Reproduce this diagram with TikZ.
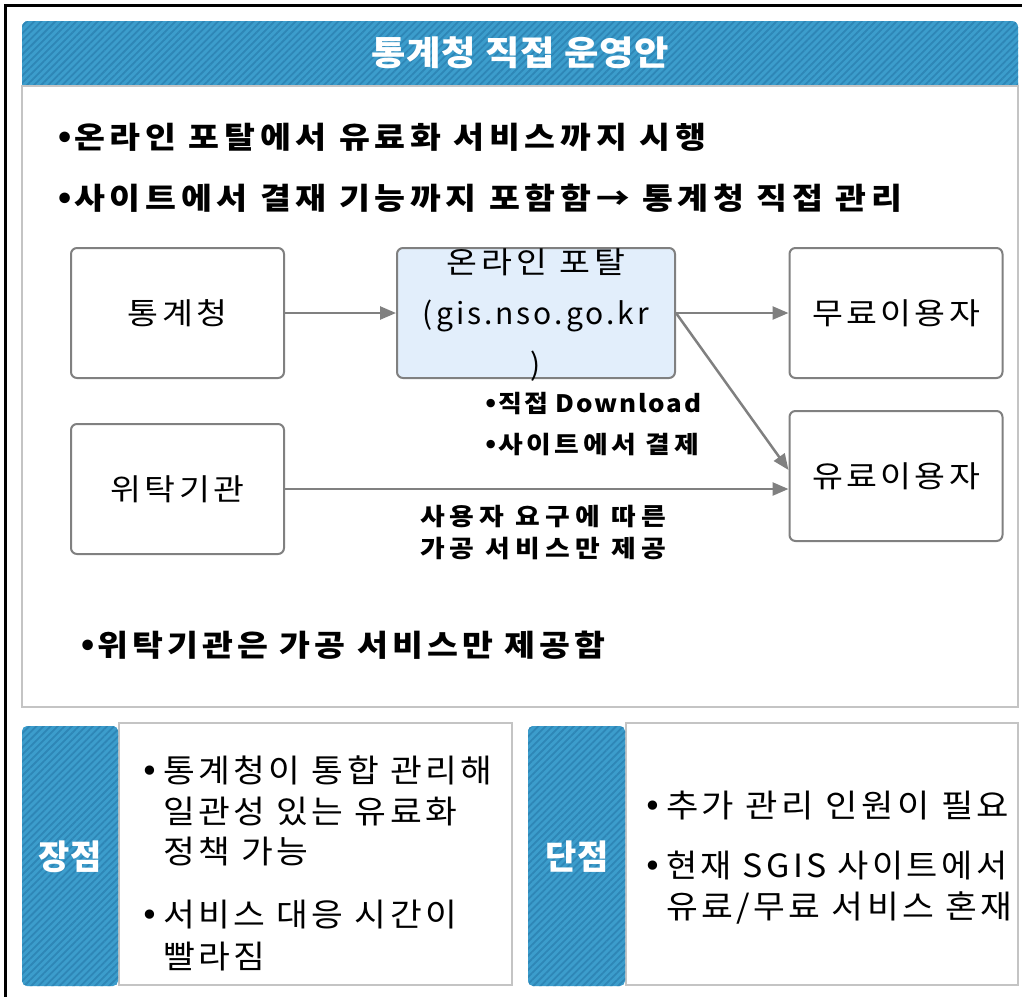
\documentclass[tikz,border=0pt]{standalone}
\usepackage{fontspec}
\setmainfont{Noto Sans CJK KR}
\newfontfamily\dv{DejaVu Sans}
\usetikzlibrary{arrows.meta,patterns.meta}
\definecolor{hblue}{HTML}{3C9DCC}
\definecolor{hstripe}{HTML}{2E86B6}
\definecolor{panelgray}{HTML}{C4C4C4}
\definecolor{boxgray}{HTML}{808080}
\definecolor{portalfill}{HTML}{E2EEFB}
\newcommand{\bul}{{\dv\char"2022}}
\newcommand{\ls}[1]{\addfontfeatures{LetterSpace=#1}}
\newcommand{\sx}[2]{\scalebox{#1}[1]{#2}}
\tikzset{
  hatch/.style={fill=hblue, postaction={pattern={Lines[angle=45,distance=5pt,line width=1.8pt]}, pattern color=hstripe}},
  panel/.style={draw=panelgray, line width=2.5pt},
  flowbox/.style={draw=boxgray, line width=2pt, rounded corners=6pt, fill=white, minimum width=213pt, minimum height=130pt, inner sep=0pt, font=\fontsize{30}{36}\selectfont\ls{10}},
  arr/.style={draw=boxgray, line width=2.5pt, -{Triangle[length=16pt,width=13pt]}},
  boldtxt/.style={font=\bfseries\fontsize{30}{36}\selectfont\ls{14}, anchor=west, inner sep=0pt},
  bodytxt/.style={font=\fontsize{32}{38}\selectfont\ls{10}, anchor=west, inner sep=0pt},
  tabtxt/.style={font=\bfseries\fontsize{34}{36}\selectfont, text=white, inner sep=0pt}
}
\begin{document}
\begin{tikzpicture}[x=1pt,y=-1pt]
\useasboundingbox (0,0) rectangle (1022,996);
% outer frame
\draw[line width=3pt, black] (5,1000) -- (5,5) -- (1030,5);
% header
\path[hatch] (22,86) {[rounded corners=6pt] -- (22,21) -- (1018,21)} -- (1018,86) -- cycle;
\node[font=\bfseries\fontsize{34}{38}\selectfont\ls{2}, text=white, inner sep=0pt] (title) at (520,53) {\sx{1.1}{통계청 직접 운영안}};
% main panel
\draw[panel] (22,86) rectangle (1018,707);
\node[boldtxt] (l1) at (55,137) {\bul\sx{1.12}{온라인 포탈에서 유료화 서비스까지 시행}};
\node[boldtxt] (l2) at (55,198) {\bul\sx{1.12}{사이트에서 결재 기능까지 포함함\textrightarrow{} 통계청 직접 관리}};
% flow boxes
\node[flowbox] (tong) at (177.5,313) {\sx{1.12}{통계청}};
\node[flowbox, fill=portalfill, minimum width=278pt] (portal) at (536,313) {};
\node[font=\fontsize{30}{36}\selectfont\ls{12}, inner sep=0pt] (p1) at (536,262) {\sx{1.12}{온라인 포탈}};
\node[font=\fontsize{30}{36}\selectfont\ls{10}, inner sep=0pt] (p2) at (536,316) {(gis.nso.go.kr};
\node[font=\fontsize{30}{36}\selectfont, inner sep=0pt] (p3) at (536,366) {)};
\node[flowbox] (free) at (896,313) {\sx{1.12}{무료이용자}};
\node[flowbox] (wit) at (177.5,489) {\sx{1.12}{위탁기관}};
\node[flowbox] (paid) at (896,476) {\sx{1.12}{유료이용자}};
% connectors
\draw[arr] (tong.east) -- (portal.west);
\draw[arr] (portal.east) -- (free.west);
\draw[arr] (portal.east) -- ([yshift=6pt]paid.west);
\draw[arr] (wit.east) -- (wit.east -| paid.west);
% labels
\node[font=\bfseries\fontsize{24}{28}\selectfont\ls{7}, inner sep=0pt, anchor=west] (d1) at (483,404) {\bul\sx{1.08}{직접 Download}};
\node[font=\bfseries\fontsize{24}{28}\selectfont\ls{13}, inner sep=0pt, anchor=west] (d2) at (483,445) {\bul\sx{1.12}{사이트에서 결제}};
\node[font=\bfseries\fontsize{24}{28}\selectfont\ls{19}, inner sep=0pt, align=center] (d3) at (543,533) {\sx{1.12}{사용자 요구에 따른}\\[4pt]\sx{1.12}{가공 서비스만 제공}};
\node[font=\bfseries\fontsize{30}{36}\selectfont\ls{12}, anchor=west, inner sep=0pt] (l3) at (78,645) {\bul\sx{1.12}{위탁기관은 가공 서비스만 제공함}};
% bottom left
\draw[panel, fill=white] (119,723) rectangle (512,985);
\path[hatch, rounded corners=5pt] (22,726) rectangle (118,986);
\node[tabtxt] (adv) at (70,857) {장점};
\node[bodytxt] (a1) at (140,770) {\bul\hspace{4pt}\sx{1.08}{통계청이 통합 관리해}};
\node[bodytxt] (a2) at (163,812) {\sx{1.08}{일관성 있는 유료화}};
\node[bodytxt] (a3) at (163,852) {\sx{1.08}{정책 가능}};
\node[bodytxt] (a4) at (140,915) {\bul\hspace{4pt}\sx{1.08}{서비스 대응 시간이}};
\node[bodytxt] (a5) at (163,957) {\sx{1.08}{빨라짐}};
% bottom right
\draw[panel, fill=white] (626,723) rectangle (1018,985);
\path[hatch, rounded corners=5pt] (528,726) rectangle (625,986);
\node[tabtxt] (dis) at (577,857) {단점};
\node[bodytxt] (b1) at (643,806) {\bul\hspace{4pt}\sx{1.1}{추가 관리 인원이 필요}};
\node[bodytxt] (b2) at (643,866) {\bul\hspace{4pt}\sx{1.06}{현재 SGIS 사이트에서}};
\node[bodytxt] (b3) at (666,908) {\sx{1.08}{유료/무료 서비스 혼재}};
\end{tikzpicture}
\end{document}
